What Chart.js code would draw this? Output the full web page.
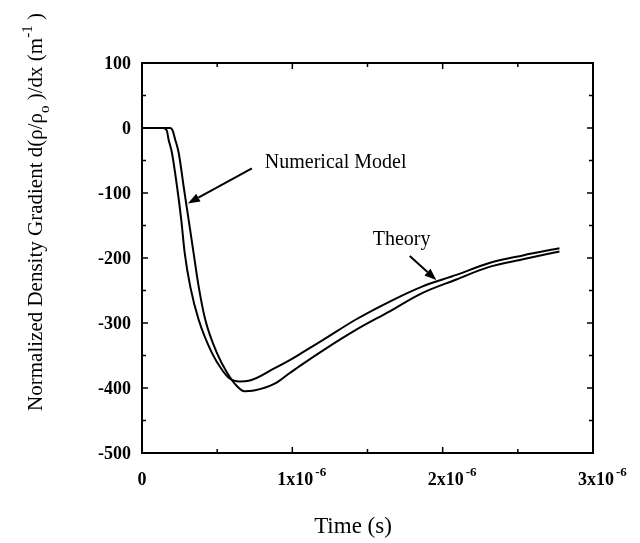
<!DOCTYPE html>
<html>
<head>
<meta charset="utf-8">
<script src="https://cdn.jsdelivr.net/npm/chart.js@4"></script>
<style>
  html, body { margin: 0; padding: 0; background: #fff; }
  #wrap { width: 640px; height: 543px; }
</style>
</head>
<body>
<div id="wrap"><canvas id="chart" width="640" height="543"></canvas></div>
<script>
// time in microseconds (scaled by 1e-6 below), gradient in m^-1
var theoryTime = [0, 0.14, 0.165, 0.177, 0.199, 0.233, 0.261, 0.284, 0.321, 0.377, 0.465, 0.532, 0.58, 0.65, 0.71, 0.886, 0.983, 1.063, 1.205, 1.42, 1.648, 1.863, 2.091, 2.305, 2.534, 2.777];
var theoryGrad = [0, 0, -4, -18, -38, -90, -141, -192, -244, -295, -346, -372, -385, -390, -389, -369, -357, -346, -326, -295, -267, -244, -226, -208, -196, -185];

var modelTime = [0, 0.188, 0.204, 0.221, 0.244, 0.277, 0.31, 0.343, 0.377, 0.421, 0.498, 0.565, 0.631, 0.68, 0.745, 0.886, 0.983, 1.063, 1.205, 1.42, 1.648, 1.863, 2.091, 2.305, 2.534, 2.777];
var modelGrad = [0, 0, -4, -18, -38, -90, -141, -192, -244, -295, -346, -376, -397, -405, -404, -393, -377, -364, -342, -311, -282, -254, -233, -214, -202, -190];

var xMajor = [0, 1e-6, 2e-6, 3e-6];
var xMajorLabels = ['0', '1x10', '2x10', '3x10'];
var xMajorExp = ['', '-6', '-6', '-6'];
var xMinor = [0.5e-6, 1.5e-6, 2.5e-6];
var yMajor = [100, 0, -100, -200, -300, -400, -500];
var yMinor = [50, -50, -150, -250, -350, -450];

// annotations: [text, textX(us), textY, arrowFromX, arrowFromY, arrowToX, arrowToY]
var notes = [
    ['Numerical Model', 0.817, -62, 0.731, -62, 0.305, -116],
    ['Theory', 1.535, -180, 1.781, -197, 1.958, -234]
];

function pts(ts, gs) {
    return ts.map(function (t, i) { return { x: t * 1e-6, y: gs[i] }; });
}

var SERIF = '"Liberation Serif", "Times New Roman", serif';

var decor = {
    id: 'decor',
    afterDraw: function (chart) {
        var ctx = chart.ctx, a = chart.chartArea;
        var xs = chart.scales.x, ys = chart.scales.y;
        ctx.save();
        ctx.strokeStyle = '#000';
        ctx.fillStyle = '#000';

        // frame
        ctx.lineWidth = 2;
        ctx.strokeRect(a.left, a.top, a.right - a.left, a.bottom - a.top);

        // inward ticks on all four sides
        ctx.lineWidth = 1.5;
        ctx.beginPath();
        function xt(v, len) {
            var p = xs.getPixelForValue(v);
            ctx.moveTo(p, a.bottom); ctx.lineTo(p, a.bottom - len);
            ctx.moveTo(p, a.top); ctx.lineTo(p, a.top + len);
        }
        function yt(v, len) {
            var p = ys.getPixelForValue(v);
            ctx.moveTo(a.left, p); ctx.lineTo(a.left + len, p);
            ctx.moveTo(a.right, p); ctx.lineTo(a.right - len, p);
        }
        xMajor.forEach(function (v) { xt(v, 6); });
        xMinor.forEach(function (v) { xt(v, 4); });
        yMajor.forEach(function (v) { yt(v, 6); });
        yMinor.forEach(function (v) { yt(v, 4); });
        ctx.stroke();

        // y tick labels
        ctx.font = 'bold 18px ' + SERIF;
        ctx.textAlign = 'right';
        ctx.textBaseline = 'middle';
        yMajor.forEach(function (v) {
            ctx.fillText(String(v), a.left - 11, ys.getPixelForValue(v) + 1);
        });

        // x tick labels with exponent
        ctx.textBaseline = 'alphabetic';
        xMajor.forEach(function (v, i) {
            var p = xs.getPixelForValue(v) + (i ? 3 : 0);
            ctx.font = 'bold 18px ' + SERIF;
            var w = ctx.measureText(xMajorLabels[i]).width;
            ctx.textAlign = 'left';
            ctx.fillText(xMajorLabels[i], p - w / 2, 485);
            if (xMajorExp[i]) {
                ctx.font = 'bold 13px ' + SERIF;
                ctx.fillText(xMajorExp[i], p + w / 2 + 2, 476);
            }
        });

        // x title
        ctx.font = '23px ' + SERIF;
        ctx.textAlign = 'center';
        ctx.fillText('Time (s)', 353, 533);

        // y title, rotated, with sub/superscripts
        var parts = [
            ['Normalized Density Gradient d(\u03c1/\u03c1', 0, 21],
            ['o', 7, 15],
            [' )/dx (m', 0, 21],
            ['-1', -10, 15],
            [' )', 0, 21]
        ];
        var total = 0;
        parts.forEach(function (pt) {
            ctx.font = pt[2] + 'px ' + SERIF;
            pt.push(ctx.measureText(pt[0]).width);
            total += pt[3];
        });
        ctx.save();
        ctx.translate(42, 212);
        ctx.rotate(-Math.PI / 2);
        ctx.textAlign = 'left';
        var cx = -total / 2;
        parts.forEach(function (pt) {
            ctx.font = pt[2] + 'px ' + SERIF;
            ctx.fillText(pt[0], cx, pt[1]);
            cx += pt[3];
        });
        ctx.restore();

        // annotations with arrows
        ctx.font = '20px ' + SERIF;
        ctx.textAlign = 'left';
        notes.forEach(function (n) {
            ctx.fillText(n[0], xs.getPixelForValue(n[1] * 1e-6), ys.getPixelForValue(n[2]));
            var x0 = xs.getPixelForValue(n[3] * 1e-6), y0 = ys.getPixelForValue(n[4]);
            var x1 = xs.getPixelForValue(n[5] * 1e-6), y1 = ys.getPixelForValue(n[6]);
            var ang = Math.atan2(y1 - y0, x1 - x0), hl = 12, hw = 4.5;
            var bx = x1 - hl * Math.cos(ang), by = y1 - hl * Math.sin(ang);
            ctx.lineWidth = 2;
            ctx.beginPath();
            ctx.moveTo(x0, y0); ctx.lineTo(bx, by);
            ctx.stroke();
            ctx.beginPath();
            ctx.moveTo(x1, y1);
            ctx.lineTo(bx + hw * Math.sin(ang), by - hw * Math.cos(ang));
            ctx.lineTo(bx - hw * Math.sin(ang), by + hw * Math.cos(ang));
            ctx.closePath();
            ctx.fill();
        });
        ctx.restore();
    }
};

new Chart(document.getElementById('chart'), {
    type: 'line',
    data: {
        datasets: [
            { label: 'Theory', data: pts(theoryTime, theoryGrad),
                borderColor: '#000', borderWidth: 2, pointRadius: 0, cubicInterpolationMode: 'monotone', fill: false },
            { label: 'Numerical Model', data: pts(modelTime, modelGrad),
                borderColor: '#000', borderWidth: 2, pointRadius: 0, cubicInterpolationMode: 'monotone', fill: false }
        ]
    },
    options: {
        responsive: false,
        animation: false,
        layout: { padding: { left: 142, top: 63, right: 47, bottom: 90 } },
        plugins: { legend: { display: false }, tooltip: { enabled: false } },
        scales: {
            x: { type: 'linear', min: 0, max: 3e-6, display: false },
            y: { type: 'linear', min: -500, max: 100, display: false }
        }
    },
    plugins: [decor]
});
</script>
</body>
</html>
